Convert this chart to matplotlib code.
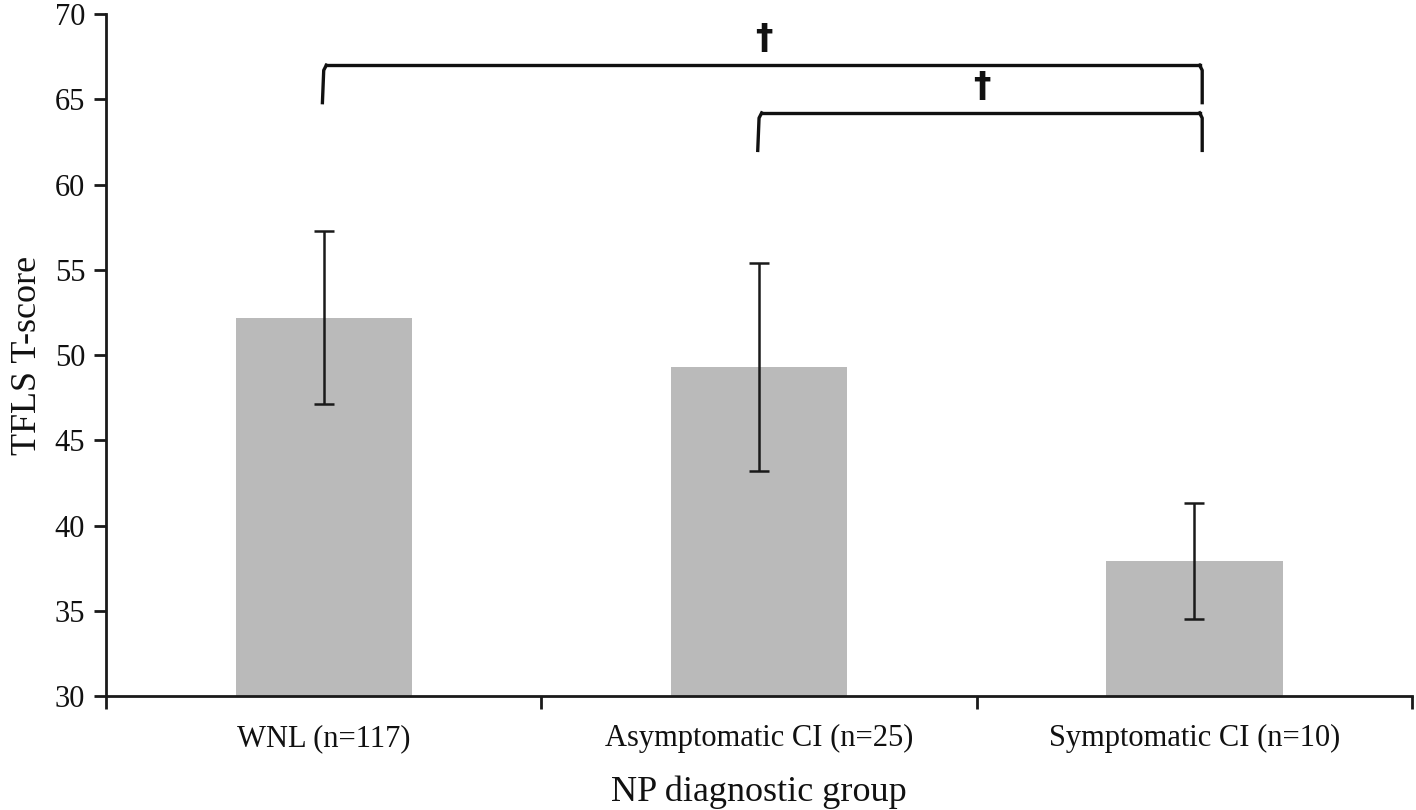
import matplotlib
matplotlib.use("Agg")
import matplotlib.pyplot as plt
import numpy as np

categories = ["WNL (n=117)", "Asymptomatic CI (n=25)", "Symptomatic CI (n=10)"]
means = [52.2, 49.3, 37.9]
errors = [5.1, 6.1, 3.4]
yticks = [30, 35, 40, 45, 50, 55, 60, 65, 70]
# significance brackets: (start index, end index, bar height, leg bottom)
brackets = [(0, 2, 67.0, 64.8), (1, 2, 64.2, 62.0)]

plt.rcParams['font.family'] = ['Liberation Serif', 'DejaVu Serif']

fig = plt.figure(figsize=(14.16, 8.10), dpi=100)
ax = fig.add_axes([0.0749, 0.1407, 0.9223, 0.842])

x = np.arange(len(categories))
ax.bar(x, np.array(means) - 30, bottom=30, width=0.405, color="#bababa", zorder=1)
ax.errorbar(x, means, yerr=errors, fmt="none", ecolor="#1a1a1a", elinewidth=1.8,
            capsize=7, capthick=1.8, zorder=2)

ax.set_ylim(30, 70)
ax.set_xlim(-0.5, 2.5)
ax.set_yticks(yticks)
ax.set_xticks(x)
ax.set_xticklabels(categories, fontsize=22, color="#111111")
ax.set_xticks([-0.5, 0.5, 1.5, 2.5], minor=True)
ax.tick_params(axis="x", which="major", length=0, pad=20)
ax.tick_params(axis="x", which="minor", length=9, width=2, direction="out", color="#1a1a1a")
ax.tick_params(axis="y", length=9, width=2, direction="out", labelsize=22, color="#1a1a1a",
               labelcolor="#111111", pad=6)
for s in ["top", "right"]:
    ax.spines[s].set_visible(False)
for s in ["left", "bottom"]:
    ax.spines[s].set_linewidth(2)
    ax.spines[s].set_color("#1a1a1a")

ax.set_ylabel("TFLS T-score", fontsize=26, labelpad=8, color="#111111")
ax.set_xlabel("NP diagnostic group", fontsize=26, labelpad=16, color="#111111")

for i0, i1, h, low in brackets:
    ax.plot([x[i0] - 0.003, x[i0], x[i0] + 0.006], [low, h - 0.3, h], color="#111111", lw=2.4)
    ax.plot([x[i0] + 0.006, x[i1] + 0.012], [h, h], color="#111111", lw=2.4)
    ax.plot([x[i1] + 0.012, x[i1] + 0.018, x[i1] + 0.018], [h, h - 0.3, low], color="#111111", lw=2.4)
    ax.text((x[i0] + x[i1]) / 2 + 0.012, h + 0.55, "\u2020", ha="center", va="bottom",
            fontsize=25, fontweight="bold", family="DejaVu Sans", color="#111111")

fig.savefig("out.png", dpi=100)
